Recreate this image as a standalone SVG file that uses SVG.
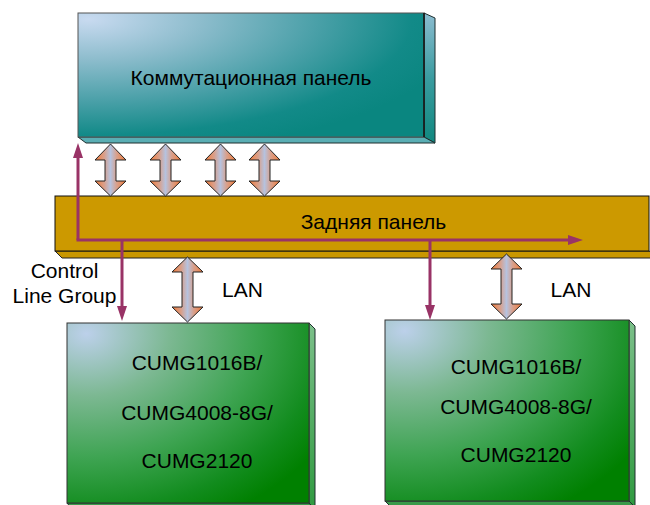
<svg xmlns="http://www.w3.org/2000/svg" width="650" height="505" viewBox="0 0 650 505">
  <defs>
    <radialGradient id="gTeal" cx="0.03" cy="0.05" r="1.1" fx="0.03" fy="0.05">
      <stop offset="0" stop-color="#c8daf0"/>
      <stop offset="0.3" stop-color="#8cbccc"/>
      <stop offset="0.6" stop-color="#4aa0a8"/>
      <stop offset="0.85" stop-color="#128a88"/>
      <stop offset="1" stop-color="#0a8680"/>
    </radialGradient>
    <radialGradient id="gGreen" cx="0.08" cy="0.06" r="1.15" fx="0.08" fy="0.06">
      <stop offset="0" stop-color="#bcd0ea"/>
      <stop offset="0.3" stop-color="#7cb892"/>
      <stop offset="0.6" stop-color="#3ea452"/>
      <stop offset="0.85" stop-color="#128c1e"/>
      <stop offset="1" stop-color="#008000"/>
    </radialGradient>
    <linearGradient id="gTealSide" x1="0" y1="0" x2="0" y2="1">
      <stop offset="0" stop-color="#8cbcd0"/>
      <stop offset="0.5" stop-color="#3a9ca0"/>
      <stop offset="1" stop-color="#10887f"/>
    </linearGradient>
    <linearGradient id="gGreenSide" x1="0" y1="0" x2="0" y2="1">
      <stop offset="0" stop-color="#7cc08a"/>
      <stop offset="1" stop-color="#2f9a40"/>
    </linearGradient>
    <linearGradient id="gArrow" x1="0" y1="0" x2="1" y2="0">
      <stop offset="0" stop-color="#f27a36"/>
      <stop offset="0.3" stop-color="#d8a08c"/>
      <stop offset="0.5" stop-color="#b6c2de"/>
      <stop offset="0.7" stop-color="#d8a08c"/>
      <stop offset="1" stop-color="#f27a36"/>
    </linearGradient>
    <marker id="pHead" viewBox="0 0 15 10" refX="5" refY="5" markerWidth="15" markerHeight="10" markerUnits="userSpaceOnUse" orient="auto">
      <path d="M0,0 L15,5 L0,10 Z" fill="#993366"/>
    </marker>
  </defs>
  <style>
    .lbl { font-family: "Liberation Sans", Arial, sans-serif; font-size: 21px; fill: #000; }
    .mid { text-anchor: middle; }
    .edge { stroke: #1e2e2e; stroke-width: 1; }
    .dbl { fill: url(#gArrow); stroke: #222; stroke-width: 1; }
    .ctl { fill: none; stroke: #993366; stroke-width: 3; marker-end: url(#pHead); }
  </style>

  <g id="switch-panel">
    <polygon points="424,13 435,18 435,143 424,137" fill="url(#gTealSide)" class="edge"/>
    <polygon points="78,137 424,137 435,143 86,143" fill="#5aaeb4" class="edge"/>
    <rect x="78" y="13" width="346" height="124" fill="url(#gTeal)" stroke="#555" stroke-width="1"/>
    <line x1="424" y1="13" x2="424" y2="137" stroke="#111" stroke-width="1.5"/>
    <text class="lbl mid" x="251" y="85">Коммутационная панель</text>
  </g>

  <g id="back-panel">
    <polygon points="55,251 649,251 660,258 62,258" fill="#c99700" stroke="#222" stroke-width="1"/>
    <rect x="55" y="196" width="594" height="55" fill="#cc9900" stroke="#111" stroke-width="1"/>
    <text class="lbl mid" x="373.5" y="229">Задняя панель</text>
  </g>

  <g id="board-left">
    <polygon points="309,323 315,329 315,510 309,503" fill="url(#gGreenSide)" class="edge"/>
    <polygon points="67,503 309,503 315,510 73,510" fill="#3a9a4a" class="edge"/>
    <rect x="67" y="323" width="242" height="180" fill="url(#gGreen)" stroke="#333" stroke-width="1"/>
    <text class="lbl mid" x="197" y="370">CUMG1016B/</text>
    <text class="lbl mid" x="197" y="420">CUMG4008-8G/</text>
    <text class="lbl mid" x="197" y="468">CUMG2120</text>
  </g>

  <g id="board-right">
    <polygon points="629,320 635,326 635,507 629,501" fill="url(#gGreenSide)" class="edge"/>
    <polygon points="385,501 629,501 635,507 391,507" fill="#3a9a4a" class="edge"/>
    <rect x="385" y="320" width="244" height="181" fill="url(#gGreen)" stroke="#333" stroke-width="1"/>
    <text class="lbl mid" x="516" y="374">CUMG1016B/</text>
    <text class="lbl mid" x="516" y="414">CUMG4008-8G/</text>
    <text class="lbl mid" x="516" y="462">CUMG2120</text>
  </g>

  <g id="connectors">
    <path class="dbl" d="M110.5,144 L126,160 L116,160 L116,181 L126,181 L110.5,196 L95,181 L105,181 L105,160 L95,160 Z"/>
    <path class="dbl" d="M165.5,144 L181,160 L171,160 L171,181 L181,181 L165.5,196 L150,181 L160,181 L160,160 L150,160 Z"/>
    <path class="dbl" d="M220.5,144 L236,160 L226,160 L226,181 L236,181 L220.5,196 L205,181 L215,181 L215,160 L205,160 Z"/>
    <path class="dbl" d="M264.5,144 L280,160 L270,160 L270,181 L280,181 L264.5,196 L249,181 L259,181 L259,160 L249,160 Z"/>
    <path class="dbl" d="M187.5,257 L203,272 L193,272 L193,307 L203,307 L187.5,322 L172,307 L182,307 L182,272 L172,272 Z"/>
    <path class="dbl" d="M506.5,254 L522,269 L512,269 L512,304 L522,304 L506.5,319 L491,304 L501,304 L501,269 L491,269 Z"/>

    <path class="ctl" d="M78,240 L78,153"/>
    <path class="ctl" d="M76.5,240 L573,240"/>
    <path class="ctl" d="M122,240 L122,311"/>
    <path class="ctl" d="M430,240 L430,310"/>
  </g>

  <g id="labels">
    <text class="lbl mid" x="64.5" y="278">Control</text>
    <text class="lbl mid" x="64.5" y="303">Line Group</text>
    <text class="lbl" x="222" y="297">LAN</text>
    <text class="lbl" x="550.5" y="297">LAN</text>
  </g>
</svg>
